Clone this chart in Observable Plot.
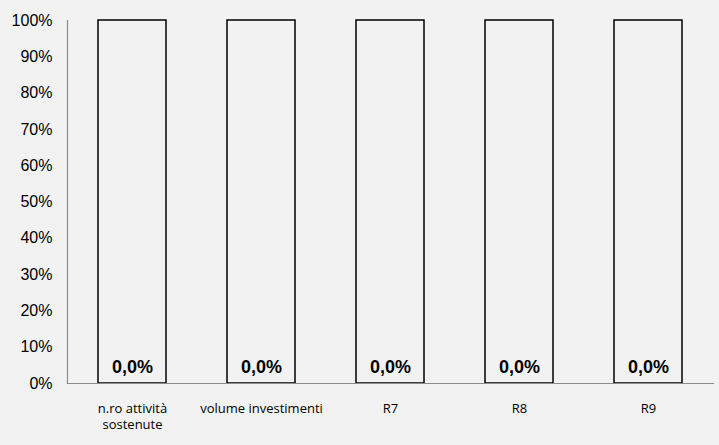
<!DOCTYPE html>
<html><head><meta charset="utf-8">
<script src="https://cdn.jsdelivr.net/npm/d3@7"></script>
<script src="https://cdn.jsdelivr.net/npm/@observablehq/plot@0.6"></script>
<style>
html,body{margin:0;padding:0;background:#f2f2f2;}
</style></head>
<body><div id="chart"></div>
<script>
const categories = ["n.ro attività\nsostenute", "volume investimenti", "R7", "R8", "R9"];
const achieved = [0, 0, 0, 0, 0];
const totals = [1, 1, 1, 1, 1];
const yTicks = [0, 0.1, 0.2, 0.3, 0.4, 0.5, 0.6, 0.7, 0.8, 0.9, 1];

const data = categories.map((c, i) => ({cat: c, total: totals[i], value: achieved[i]}));
const fmt = v => (v * 100).toFixed(1).replace(".", ",") + "%";

const chart = Plot.plot({
  width: 719, height: 445,
  marginTop: 20, marginBottom: 62, marginLeft: 67, marginRight: 6,
  style: {background: "#f2f2f2", fontFamily: "Liberation Sans, Arial, sans-serif"},
  x: {domain: categories, paddingInner: 0.47, paddingOuter: 0.235, label: null},
  y: {domain: [0, 1], label: null},
  marks: [
    Plot.barY(data, {x: "cat", y: "total", fill: "#f2f2f2", stroke: "#000", strokeWidth: 1.5}),
    Plot.frame({anchor: "bottom", stroke: "#8c8c8c", strokeWidth: 1.2}),
    Plot.frame({anchor: "left", stroke: "#8c8c8c", strokeWidth: 1.2}),
    Plot.axisY({ticks: yTicks, tickFormat: d => Math.round(d * 100) + "%", tickSize: 0, tickPadding: 15, fontSize: 16, fill: "#000", label: null}),
    Plot.axisX({tickSize: 0, tickPadding: 17, fontSize: 13, fill: "#000", fontFamily: "Open Sans, sans-serif", lineHeight: 1.3, label: null}),
    Plot.text(data, {x: "cat", y: "value", text: d => fmt(d.value), dy: -16, fontSize: 18, fontWeight: "bold", fill: "#000"})
  ]
});
document.getElementById("chart").appendChild(chart);
</script></body></html>
